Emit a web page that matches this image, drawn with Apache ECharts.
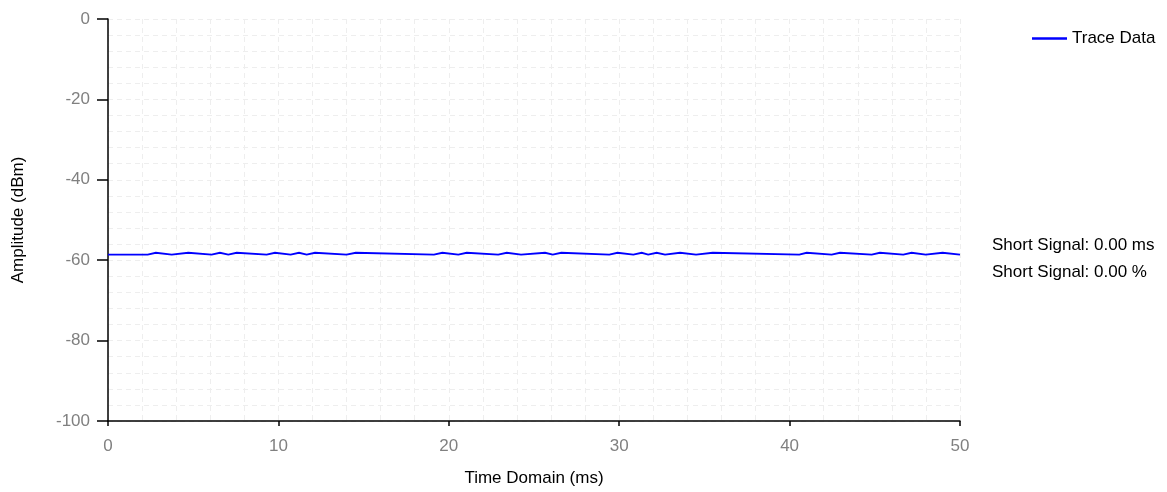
<!DOCTYPE html>
<html>
<head>
<meta charset="utf-8">
<script src="https://cdn.jsdelivr.net/npm/echarts@6/dist/echarts.min.js"></script>
<style>html,body{margin:0;padding:0;background:#fff}#c{width:1167px;height:492px}</style>
</head>
<body>
<div id="c"></div>
<script>
// Transition times (ms) and the amplitude (dBm) held from each time until the next one
var timeMs = [0, 2.33, 2.81, 3.74, 4.71, 6.08, 6.57, 7.06, 7.55, 9.31, 9.80, 10.72, 11.21, 11.66, 12.15, 14.0, 14.54,
  19.13, 19.62, 20.56, 21.05, 22.9, 23.4, 24.24, 25.65, 26.1, 26.6, 29.42, 29.9, 30.83, 31.32, 31.7, 32.2, 32.69, 33.57,
  34.51, 35.49, 40.57, 41.0, 42.47, 42.96, 44.82, 45.3, 46.67, 47.16, 47.99, 48.98, 50];
var amplitudeDbm = [-58.6, -58.15, -58.6, -58.15, -58.6, -58.15, -58.6, -58.15, -58.6, -58.15, -58.6, -58.15, -58.6, -58.15, -58.6, -58.15, -58.6,
  -58.15, -58.6, -58.15, -58.6, -58.15, -58.6, -58.15, -58.6, -58.15, -58.6, -58.15, -58.6, -58.15, -58.6, -58.15, -58.6, -58.15, -58.6,
  -58.15, -58.6, -58.15, -58.6, -58.15, -58.6, -58.15, -58.6, -58.15, -58.6, -58.15, -58.6, -58.6];
var xTicks = [0, 10, 20, 30, 40, 50];
var yTicks = [0, -20, -40, -60, -80, -100];
var seriesName = 'Trace Data';
var infoLines = ['Short Signal: 0.00 ms', 'Short Signal: 0.00 %'];

// Sample-and-hold: each value is held until the next transition time
var pts = [];
timeMs.forEach(function (t, i) {
  if (i > 0) pts.push([t, amplitudeDbm[i - 1]]);
  pts.push([t, amplitudeDbm[i]]);
});

var chart = echarts.init(document.getElementById('c'));
var font = '"Liberation Sans", Arial, sans-serif';
var fs = 17;
var gridStyle = {type: [5, 4], color: '#eeeeee', width: 1};
chart.setOption({
  animation: false,
  textStyle: {fontFamily: font},
  grid: {left: 108, right: 207, top: 19, bottom: 69, containLabel: false},
  legend: {
    data: [seriesName], left: 1027, top: 25, itemWidth: 35, itemHeight: 10, itemGap: 7,
    icon: 'path://M0,3.8 L35,3.8 L35,6.2 L0,6.2 Z',
    textStyle: {color: '#000', fontSize: fs, fontFamily: font}
  },
  xAxis: {
    type: 'value', min: xTicks[0], max: xTicks[xTicks.length - 1], interval: 10,
    name: 'Time Domain (ms)', nameLocation: 'middle', nameGap: 49,
    nameTextStyle: {color: '#000', fontSize: fs, fontFamily: font},
    axisLine: {show: true, onZero: false, lineStyle: {color: '#000', width: 1.5}},
    axisTick: {show: true, length: 5, lineStyle: {color: '#000', width: 1.5}},
    axisLabel: {color: '#808080', fontSize: fs, margin: 17, fontFamily: font},
    splitLine: {show: true, lineStyle: gridStyle},
    minorTick: {show: false, splitNumber: 5},
    minorSplitLine: {show: true, lineStyle: gridStyle}
  },
  yAxis: {
    type: 'value', min: yTicks[yTicks.length - 1], max: yTicks[0], interval: 20,
    name: 'Amplitude (dBm)', nameLocation: 'middle', nameGap: 81,
    nameTextStyle: {color: '#000', fontSize: fs, fontFamily: font},
    axisLine: {show: true, onZero: false, lineStyle: {color: '#000', width: 1.5}},
    axisTick: {show: true, length: 11, lineStyle: {color: '#000', width: 1.5}},
    axisLabel: {color: '#808080', fontSize: fs, margin: 18, fontFamily: font},
    splitLine: {show: true, lineStyle: gridStyle},
    minorTick: {show: false, splitNumber: 5},
    minorSplitLine: {show: true, lineStyle: gridStyle}
  },
  graphic: infoLines.map(function (s, i) {
    return {type: 'text', left: 992, top: 237 + i * 27,
      style: {text: s, fill: '#000', font: fs + 'px ' + font}};
  }),
  series: [{
    name: seriesName, type: 'line', data: pts, showSymbol: false, sampling: null,
    lineStyle: {color: '#0000ff', width: 1.8, join: 'miter', cap: 'butt'}, itemStyle: {color: '#0000ff'}
  }]
});
</script>
</body>
</html>
